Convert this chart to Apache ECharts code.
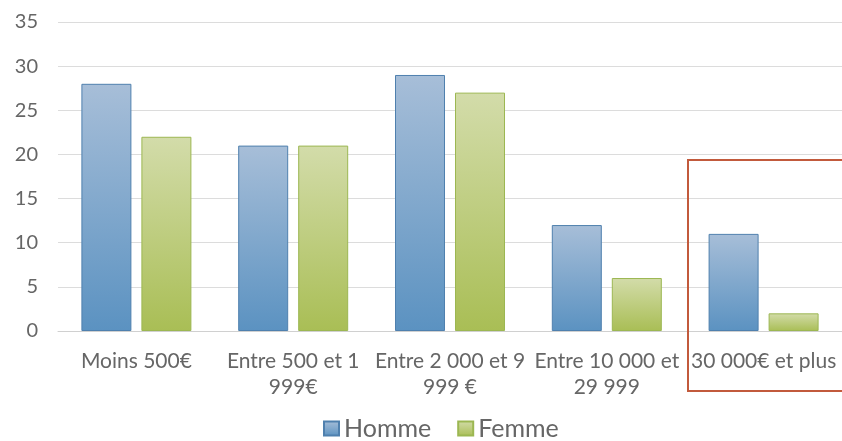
<!DOCTYPE html>
<html>
<head>
<meta charset="utf-8">
<script src="https://cdn.jsdelivr.net/npm/echarts@6/dist/echarts.min.js"></script>
<style>
    html, body { margin: 0; padding: 0; background: #fff; }
    #chart { width: 842px; height: 441px; }
</style>
</head>
<body>
<div id="chart"></div>
<script>
// Tranches de revenus
const categories = ['Moins 500€', 'Entre 500 et 1\n999€', 'Entre 2 000 et 9\n999 €', 'Entre 10 000 et\n29 999', '30 000€ et plus']
const homme = [28, 21, 29, 12, 11]
const femme = [22, 21, 27, 6, 2]
const yTicks = [0, 5, 10, 15, 20, 25, 30, 35]

const chart = echarts.init(document.getElementById('chart'))

function grad(top, bottom) {
    return new echarts.graphic.LinearGradient(0, 0, 0, 1, [
        { offset: 0, color: top },
        { offset: 1, color: bottom },
    ])
}

const font = 'Lato, "Open Sans", sans-serif'

chart.setOption({
    backgroundColor: '#fff',
    animation: false,
    textStyle: { fontFamily: font },
    grid: { left: 58, top: 22, width: 790, height: 309 },
    legend: {
        top: 411,
        left: 318,
        itemWidth: 15,
        itemHeight: 14,
        itemGap: 26,
        icon: 'rect',
        textStyle: { fontSize: 25, color: '#666', fontFamily: font, padding: [0, 0, 0, 0] },
        data: ['Homme', 'Femme'],
    },
    xAxis: {
        type: 'category',
        data: categories,
        axisLine: { lineStyle: { color: '#d0d0d0' } },
        axisTick: { show: false },
        axisLabel: { color: '#666', fontSize: 21, margin: 17, lineHeight: 26, interval: 0 },
    },
    yAxis: {
        type: 'value',
        min: yTicks[0],
        max: yTicks[yTicks.length - 1],
        interval: 5,
        axisLine: { show: false },
        axisTick: { show: false },
        axisLabel: { color: '#666', fontSize: 20, margin: 20 },
        splitLine: { lineStyle: { color: '#dcdcdc' } },
    },
    series: [
        {
            name: 'Homme',
            type: 'bar',
            data: homme,
            barWidth: 50,
            barGap: '20%',
            itemStyle: { color: grad('#a7bed8', '#5b92c1'), borderColor: '#4f80ae', borderWidth: 1 },
        },
        {
            name: 'Femme',
            type: 'bar',
            data: femme,
            barWidth: 50,
            itemStyle: { color: grad('#d3dcaa', '#a9be55'), borderColor: '#9cb752', borderWidth: 1 },
        },
    ],
    graphic: [
        {
            type: 'rect',
            shape: { x: 688, y: 160, width: 170, height: 231 },
            style: { fill: 'none', stroke: '#c25a3c', lineWidth: 2 },
            z: 10,
        },
    ],
})
</script>
</body>
</html>
